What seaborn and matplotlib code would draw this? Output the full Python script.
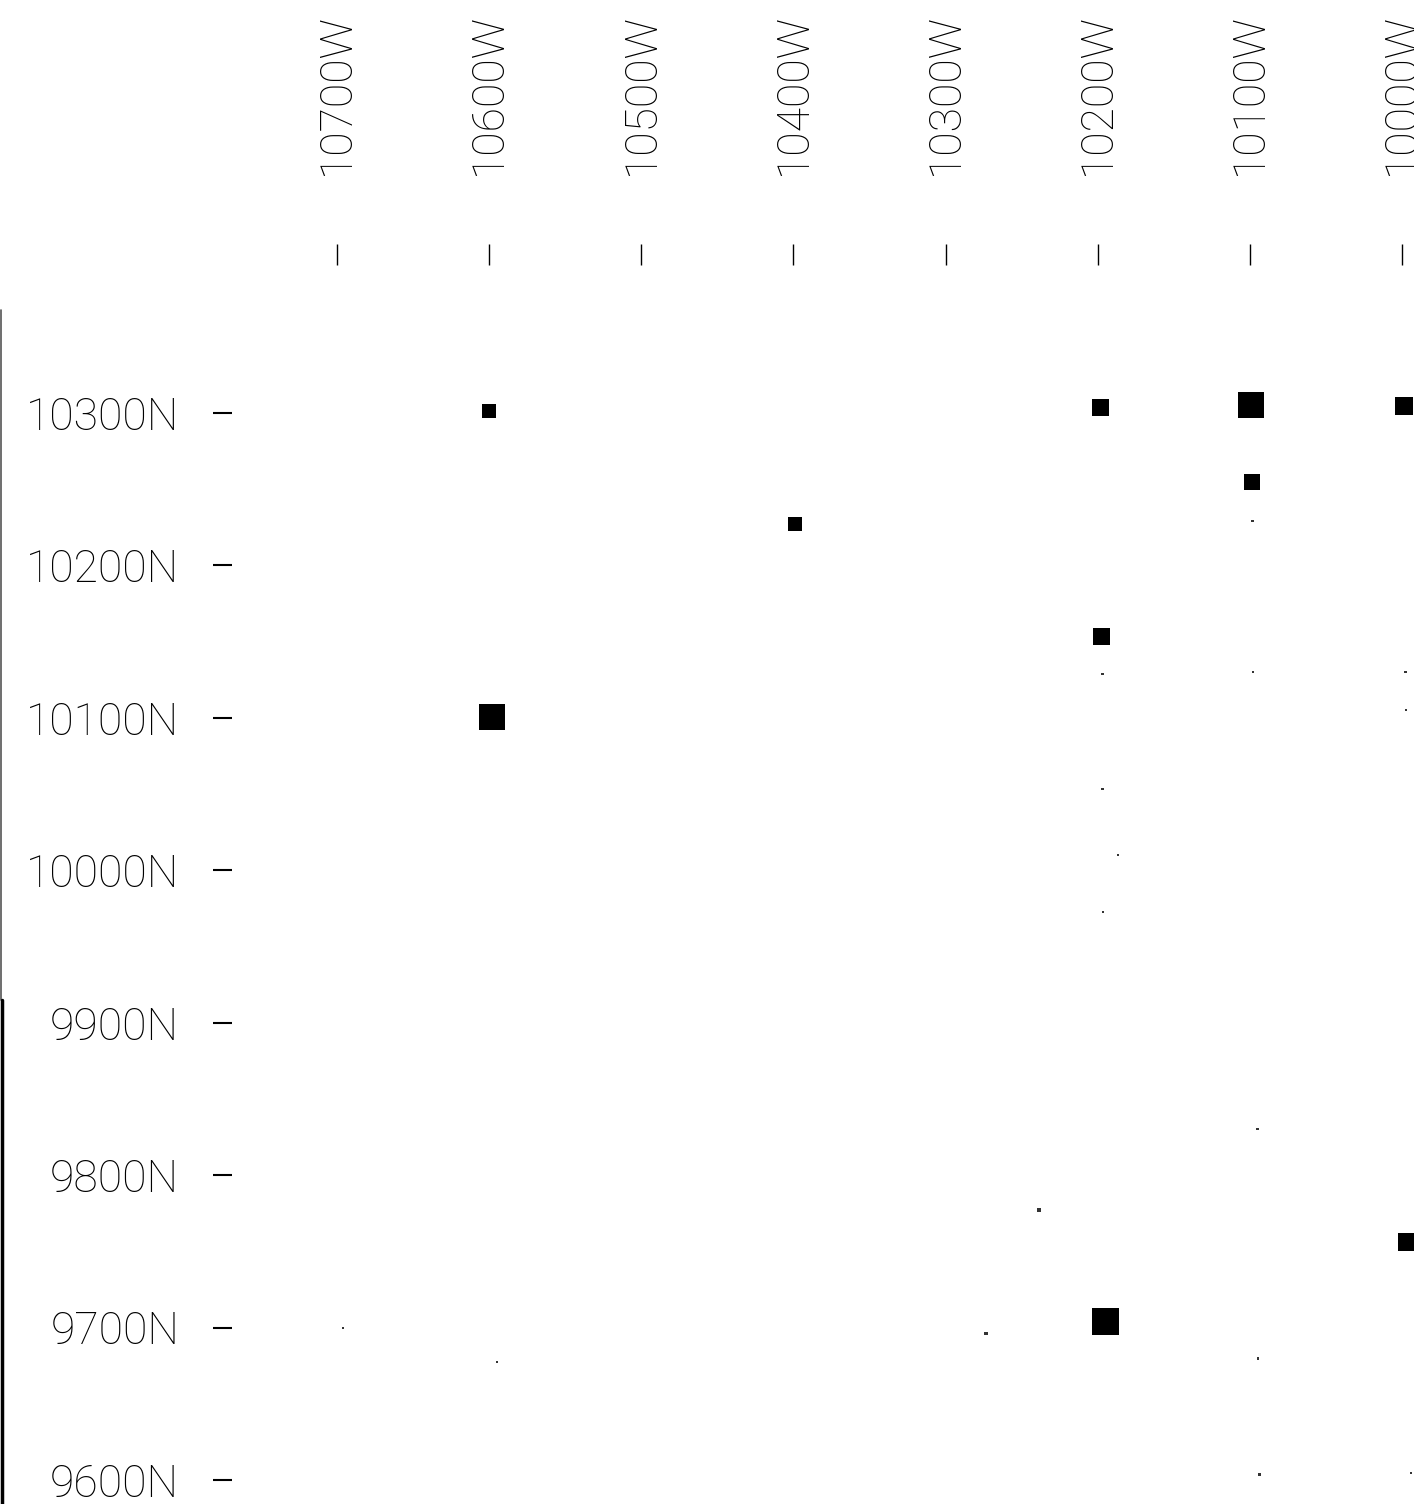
import matplotlib
matplotlib.use("Agg")
import matplotlib.pyplot as plt
from matplotlib.lines import Line2D
import seaborn as sns
import pandas as pd

# ---- data ----
easting_ticks = [10700, 10600, 10500, 10400, 10300, 10200, 10100, 10000]
northing_ticks = [10300, 10200, 10100, 10000, 9900, 9800, 9700, 9600]
easting_labels = [f"{v}W" for v in easting_ticks]
northing_labels = [f"{v}N" for v in northing_ticks]

# large anomaly squares: position and marker side (px)
sq_x = [10600.1, 10198.4, 10099.1, 9998.5, 10098.4, 10398.9, 10197.7, 10598.1, 10195.1, 9996.5]
sq_y = [10301.3, 10303.9, 10305.2, 10304.6, 10254.7, 10227.2, 10153.7, 10100.5, 9704.2, 9756.0]
sq_side = [14, 17, 26, 18, 16, 14, 17, 26, 27, 18]

# tiny readings (dots)
dot_x = [10098.4, 10197.0, 10097.8, 9997.8, 9997.2, 10197.0, 10186.5, 10196.4,
         10095.1, 10238.5, 10273.3, 10696.1, 10594.8, 10094.5, 10093.8, 9994.0]
dot_y = [10229.1, 10128.7, 10130.0, 10130.0, 10105.1, 10053.3, 10009.9, 9972.6,
         9830.2, 9777.0, 9696.3, 9699.6, 9677.3, 9679.9, 9603.8, 9604.5]
dot_side = [2.5, 2.5, 2.5, 2.5, 2.5, 2.5, 2.5, 2.5,
            2.5, 4.0, 3.5, 2.5, 2.5, 2.5, 2.5, 2.5]

sns.set_theme(style="white")
plt.rcParams["font.family"] = ["Roboto", "DejaVu Sans"]
plt.rcParams["font.weight"] = "light"

W, H, DPI = 1414, 1504, 100
fig = plt.figure(figsize=(W / DPI, H / DPI), dpi=DPI, facecolor="white")
ax_left, ax_top = 232, 265
ax = fig.add_axes([ax_left / W, 0, (W - ax_left) / W, (H - ax_top) / H])
ax.set_facecolor("white")

px2pt = 72.0 / DPI
sq_df = pd.DataFrame({"x": sq_x, "y": sq_y})
dot_df = pd.DataFrame({"x": dot_x, "y": dot_y})
sns.scatterplot(data=dot_df, x="x", y="y", ax=ax, marker="s", color="#333333",
                s=[(d * px2pt) ** 2 for d in dot_side], linewidth=0, legend=False,
                clip_on=False)
sns.scatterplot(data=sq_df, x="x", y="y", ax=ax, marker="s", color="black",
                s=[(d * px2pt) ** 2 for d in sq_side], linewidth=0, legend=False,
                clip_on=False)

ax.set_xlim(10769.0, 9992.1)
ax.set_ylim(9584.3, 10397.1)

ax.xaxis.set_ticks_position("top")
ax.xaxis.set_label_position("top")
ax.set_xticks(easting_ticks)
ax.set_xticklabels(easting_labels, rotation=90, fontsize=32, color="black",
                   fontweight="light")
ax.set_yticks(northing_ticks)
ax.set_yticklabels(northing_labels, fontsize=32, color="black",
                   fontweight="light")
ax.tick_params(axis="x", top=True, bottom=False, direction="out", length=15,
               width=1.0, pad=50, colors="black")
ax.tick_params(axis="y", left=True, right=False, direction="out", length=14,
               width=1.5, pad=24, colors="black")
for sp in ax.spines.values():
    sp.set_visible(False)
ax.set_xlabel("")
ax.set_ylabel("")
ax.grid(False)

# scanned page edge on the far left
fig.add_artist(Line2D([1.0 / W, 1.0 / W], [(H - 1000) / H, (H - 310) / H],
                      transform=fig.transFigure, color="#555555", lw=1.2))
fig.add_artist(Line2D([1.5 / W, 1.5 / W], [0, (H - 1000) / H],
                      transform=fig.transFigure, color="black", lw=2.5))

fig.savefig("out.png", dpi=DPI, facecolor="white")
